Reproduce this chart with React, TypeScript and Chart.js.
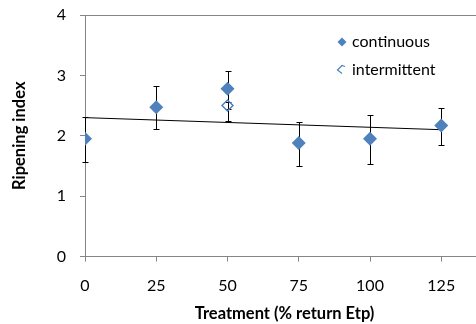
import React, { useEffect, useRef } from "react";
import { Chart, registerables } from "chart.js";

Chart.register(...registerables);

const treatments = [0, 25, 50, 75, 100, 125];
const continuous = [1.95, 2.47, 2.78, 1.88, 1.95, 2.17];
const contUpper = [2.31, 2.82, 3.08, 2.22, 2.35, 2.46];
const contLower = [1.57, 2.11, 2.25, 1.5, 1.53, 1.85];
const intermittentX = [50];
const intermittent = [2.5];
const intUpper = [2.56];
const intLower = [2.44];
const trendX = [0, 125];
const trendY = [2.3, 2.1];
const xTicks = [0, 25, 50, 75, 100, 125];
const yTicks = [0, 1, 2, 3, 4];

const BLUE = "#4F81BD";
const AXIS = "#868686";
const FONT = "Lato, 'Liberation Sans', sans-serif";

const errorBars = {
  id: "errorBars",
  beforeDatasetsDraw(chart: any) {
    const { ctx, scales } = chart;
    const xs = scales.x;
    const ys = scales.y;
    const draw = (xv: number[], up: number[], lo: number[], cap: number) => {
      ctx.save();
      ctx.strokeStyle = "#000";
      ctx.lineWidth = 1;
      xv.forEach((x, i) => {
        const px = Math.round(xs.getPixelForValue(x)) + 0.5;
        const pt = Math.round(ys.getPixelForValue(up[i])) + 0.5;
        const pb = Math.round(ys.getPixelForValue(lo[i])) + 0.5;
        ctx.beginPath();
        ctx.moveTo(px, pt);
        ctx.lineTo(px, pb);
        ctx.moveTo(px - cap, pt);
        ctx.lineTo(px + cap, pt);
        ctx.moveTo(px - cap, pb);
        ctx.lineTo(px + cap, pb);
        ctx.stroke();
      });
      ctx.restore();
    };
    draw(treatments, contUpper, contLower, 3);
    draw(intermittentX, intUpper, intLower, 3);
  },
};

const customLegend = {
  id: "customLegend",
  afterDraw(chart: any) {
    const { ctx } = chart;
    ctx.save();
    ctx.font = `16px ${FONT}`;
    ctx.textBaseline = "middle";
    ctx.fillStyle = "#000";
    const mx = 342;
    const r = 4.5;
    let y = 42;
    ctx.beginPath();
    ctx.moveTo(mx, y - r);
    ctx.lineTo(mx + r, y);
    ctx.lineTo(mx, y + r);
    ctx.lineTo(mx - r, y);
    ctx.closePath();
    ctx.fillStyle = BLUE;
    ctx.fill();
    ctx.fillStyle = "#000";
    ctx.fillText("continuous", 352, y);
    y = 70;
    ctx.beginPath();
    ctx.moveTo(mx + 3, y - r + 1);
    ctx.lineTo(mx, y - r);
    ctx.lineTo(mx - r, y);
    ctx.lineTo(mx, y + r - 1);
    ctx.strokeStyle = BLUE;
    ctx.lineWidth = 1.2;
    ctx.stroke();
    ctx.fillText("intermittent", 352, y);
    ctx.restore();
  },
};

export default function App() {
  const ref = useRef<HTMLCanvasElement>(null);
  useEffect(() => {
    document.body.style.margin = "0";
    document.body.style.overflow = "hidden";
    const chart = new Chart(ref.current!, {
      type: "scatter",
      data: {
        datasets: [
          {
            label: "trend",
            type: "line",
            data: trendX.map((x, i) => ({ x, y: trendY[i] })),
            borderColor: "#000",
            borderWidth: 1,
            pointRadius: 0,
            showLine: true,
            fill: false,
            order: 3,
          } as any,
          {
            label: "intermittent",
            data: intermittentX.map((x, i) => ({ x, y: intermittent[i] })),
            pointStyle: "rectRot",
            pointRadius: 5.5,
            backgroundColor: "rgba(255,255,255,0)",
            borderColor: BLUE,
            borderWidth: 1.5,
            order: 2,
          },
          {
            label: "continuous",
            data: treatments.map((x, i) => ({ x, y: continuous[i] })),
            pointStyle: "rectRot",
            pointRadius: 7,
            backgroundColor: BLUE,
            borderColor: BLUE,
            borderWidth: 0,
            order: 1,
          },
        ],
      },
      options: {
        animation: false,
        responsive: false,
        events: [],
        layout: { autoPadding: false, padding: { left: 0, top: 15, right: 0, bottom: 0 } },
        plugins: { legend: { display: false }, tooltip: { enabled: false } },
        scales: {
          x: {
            type: "linear",
            min: 0,
            max: 140,
            afterBuildTicks: (s: any) => {
              s.ticks = xTicks.map((v) => ({ value: v }));
            },
            afterFit: (s: any) => {
              s.height = 67.5;
              s.paddingLeft = 0;
              s.paddingRight = 0;
            },
            grid: {
              drawOnChartArea: false,
              drawTicks: true,
              tickLength: 5,
              tickColor: AXIS,
            },
            border: { display: true, color: AXIS, width: 1 },
            ticks: {
              color: "#000",
              font: { family: FONT, size: 16 },
              padding: 15,
              maxRotation: 0,
            },
            title: {
              display: true,
              text: "Treatment (% return Etp)",
              color: "#000",
              font: { family: FONT, size: 16.5, weight: "bold" },
              padding: { top: 0, bottom: 0 },
            },
          },
          y: {
            type: "linear",
            min: 0,
            max: 4,
            afterBuildTicks: (s: any) => {
              s.ticks = yTicks.map((v) => ({ value: v }));
            },
            afterFit: (s: any) => {
              s.width = 85;
              s.paddingTop = 0;
              s.paddingBottom = 0;
            },
            grid: {
              color: (c: any) => (c.tick && c.tick.value === 4 ? AXIS : "rgba(0,0,0,0)"),
              drawTicks: true,
              tickLength: 5,
              tickColor: AXIS,
            },
            border: { display: true, color: AXIS, width: 1 },
            ticks: {
              color: "#000",
              font: { family: FONT, size: 16 },
              padding: 14,
            },
            title: {
              display: true,
              text: "Ripening index",
              color: "#000",
              font: { family: FONT, size: 16.5, weight: "bold" },
              padding: { top: 10, bottom: 0 },
            },
          },
        },
      },
      plugins: [errorBars, customLegend],
    });
    return () => chart.destroy();
  }, []);
  return (
    <div style={{ position: "fixed", left: 0, top: 0, width: 476, height: 324, overflow: "hidden", background: "#fff" }}>
      <canvas ref={ref} width={484} height={324} style={{ display: "block" }} />
    </div>
  );
}
